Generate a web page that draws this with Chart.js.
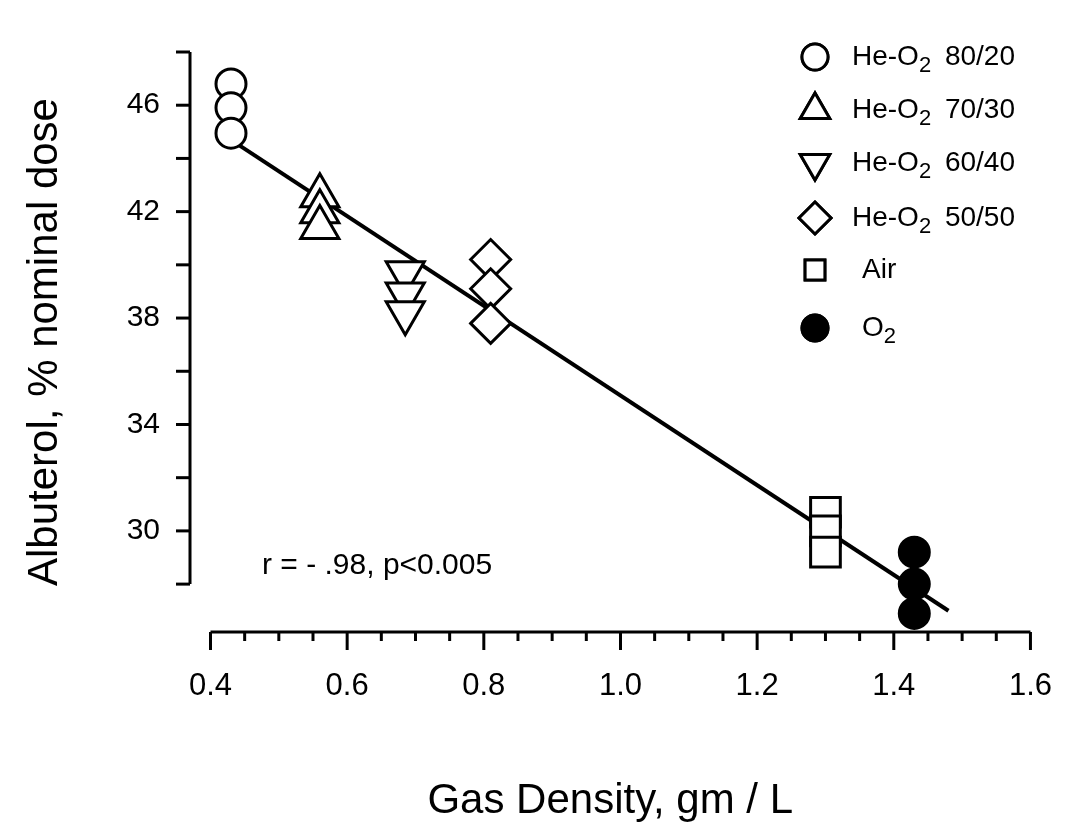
<!DOCTYPE html>
<html><head><meta charset="utf-8">
<script src="https://cdn.jsdelivr.net/npm/chart.js@4/dist/chart.umd.min.js"></script>
<style>html,body{margin:0;padding:0;background:#fff}#w{width:1080px;height:831px}</style>
</head><body><div id="w"><canvas id="c"></canvas></div>
<script>
const seriesNames = ['He-O2 80/20','He-O2 70/30','He-O2 60/40','He-O2 50/50','Air','O2'];
const seriesX = [0.43, 0.56, 0.685, 0.81, 1.30, 1.43];
const seriesY = [
  [46.8, 45.9, 44.95],
  [42.6, 42.0, 41.4],
  [39.7, 38.9, 38.2],
  [40.2, 39.1, 37.8],
  [30.7, 30.0, 29.2],
  [29.2, 28.0, 26.9]
];
const fitX = [0.43, 1.48];
const fitY = [44.7, 27.0];
const xTickLabels = [0.4, 0.6, 0.8, 1.0, 1.2, 1.4, 1.6];
const yTickLabels = [30, 34, 38, 42, 46];
const styles = ['circle','triangle','triangle','rectRot','rect','circle'];
const rots = [0,0,180,0,0,0];
const fills = ['#fff','#fff','#fff','#fff','#fff','#000'];
const radii = [15,22,22,20,21,15];
const font = "'Liberation Sans', Arial, sans-serif";

const datasets = seriesNames.map((n,i)=>({
  label:n, type:'scatter',
  data: seriesY[i].map(y=>({x:seriesX[i], y})),
  pointStyle: styles[i], rotation: rots[i], radius: radii[i],
  backgroundColor: fills[i], borderColor:'#000', borderWidth:3, order:1
}));
datasets.push({label:'fit', type:'line', data: fitX.map((x,i)=>({x, y:fitY[i]})),
  borderColor:'#000', borderWidth:4, pointRadius:0, order:2});

const axesPlugin = {
  id:'axes',
  afterDraw(ch){
    const c=ch.ctx, xs=ch.scales.x, ys=ch.scales.y;
    c.save(); c.strokeStyle='#000'; c.lineWidth=3;
    const yx=xs.getPixelForValue(0.37);
    c.beginPath(); c.moveTo(yx, ys.getPixelForValue(48)); c.lineTo(yx, ys.getPixelForValue(28)); c.stroke();
    for(let v=28; v<=48; v+=2){const p=ys.getPixelForValue(v); c.beginPath(); c.moveTo(yx,p); c.lineTo(yx-14,p); c.stroke();}
    const xy=ys.getPixelForValue(26.2);
    c.beginPath(); c.moveTo(xs.getPixelForValue(0.4), xy); c.lineTo(xs.getPixelForValue(1.6), xy); c.stroke();
    for(let k=0;k<=24;k++){const v=0.4+k*0.05; const p=xs.getPixelForValue(v); const L = k%4===0?18:9;
      c.beginPath(); c.moveTo(p,xy); c.lineTo(p,xy+L); c.stroke();}
    c.fillStyle='#000'; c.font='30px '+font; c.textBaseline='middle';
    c.fillText('r = - .98, p<0.005', 262, 566);
    const lx=815, tx=852;
    const ly=[57,110,163,218,270,328];
    const lr=[13,17,17,16,14,13];
    seriesNames.forEach((n,i)=>{
      const y=ly[i];
      c.lineWidth=3; c.strokeStyle='#000'; c.fillStyle=fills[i];
      Chart.helpers.drawPoint(c,{pointStyle:styles[i], rotation:rots[i], radius:lr[i], borderWidth:3}, lx, y);
      c.fill(); c.stroke();
      c.fillStyle='#000'; c.font='28px '+font;
      if(n.includes('O2')){
        const parts=n.split('O2');
        let x=tx+(i===5?10:0);
        c.fillText(parts[0]+'O',x,y); x+=c.measureText(parts[0]+'O').width;
        c.font='22px '+font; c.fillText('2',x,y+9); x+=c.measureText('2').width+6;
        c.font='28px '+font; c.fillText(parts[1],x,y);
      } else c.fillText(n, tx+10, y);
    });
    c.restore();
  }
};

new Chart(document.getElementById('c'),{
  data:{datasets},
  options:{
    responsive:true, maintainAspectRatio:false, animation:false,
    layout:{padding:{top:52,right:45,left:0,bottom:0}},
    plugins:{legend:{display:false}, tooltip:{enabled:false}},
    scales:{
      x:{type:'linear', min:0.37, max:1.6,
        afterBuildTicks:s=>{s.ticks=xTickLabels.map(v=>({value:v}));},
        afterFit:s=>{s.height=199;},
        grid:{display:false}, border:{display:false},
        ticks:{padding:28, color:'#000', font:{family:font,size:31}, callback:v=>v.toFixed(1), maxRotation:0, autoSkip:false},
        title:{display:true, text:'Gas Density, gm / L', color:'#000', font:{family:font,size:42}, padding:{top:20}}
      },
      y:{type:'linear', min:26.2, max:48,
        afterBuildTicks:s=>{s.ticks=yTickLabels.map(v=>({value:v}));},
        afterFit:s=>{s.width=190;},
        grid:{display:false}, border:{display:false},
        ticks:{padding:22, color:'#000', font:{family:font,size:30}},
        title:{display:true, text:'Albuterol, % nominal dose', color:'#000', font:{family:font,size:42}, padding:{top:20,bottom:10}}
      }
    }
  },
  plugins:[axesPlugin]
});
</script></body></html>
